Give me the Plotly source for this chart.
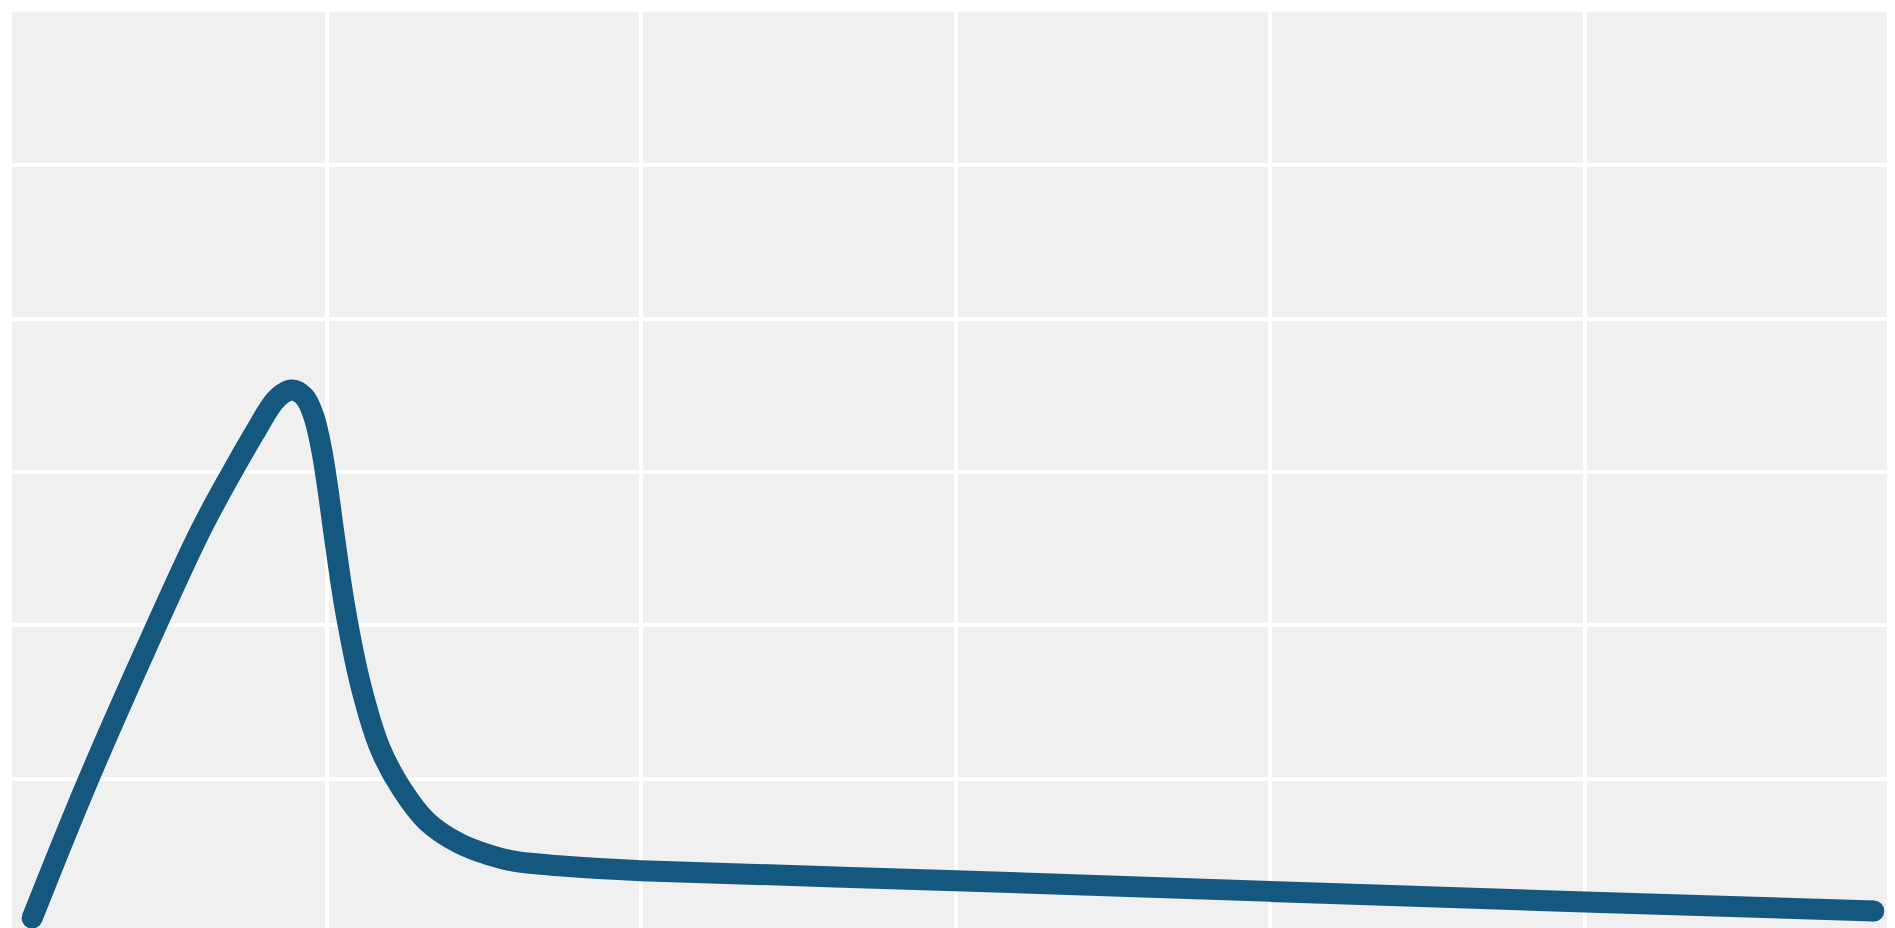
import plotly.graph_objects as go

# Curve (grid units: one gridline per unit)
x_vals = [0.064, 0.232, 0.42, 0.60, 0.70, 0.77, 0.83, 0.86, 0.89, 0.93, 0.96, 0.985,
          1.005, 1.025, 1.06, 1.11, 1.17, 1.24, 1.32, 1.42, 1.52, 1.60, 1.75, 2.0,
          3.0, 4.0, 5.0, 5.92]
y_vals = [0.09, 0.94, 1.82, 2.62, 3.0, 3.25, 3.45, 3.51, 3.535, 3.49, 3.36, 3.14,
          2.88, 2.58, 2.10, 1.60, 1.20, 0.93, 0.72, 0.58, 0.50, 0.46, 0.43, 0.40,
          0.335, 0.265, 0.195, 0.137]

line_color = "#15587F"
line_w = 21

fig = go.Figure()
fig.add_trace(go.Scatter(x=x_vals, y=y_vals, mode="lines", cliponaxis=False,
                         line=dict(color=line_color, width=line_w, shape="spline", smoothing=1.0),
                         hoverinfo="skip", showlegend=False))
fig.add_trace(go.Scatter(x=[x_vals[0], x_vals[-1]], y=[y_vals[0], y_vals[-1]], mode="markers",
                         cliponaxis=False,
                         marker=dict(color=line_color, size=line_w, line=dict(width=0)),
                         hoverinfo="skip", showlegend=False))

fig.update_layout(
    width=1895, height=928,
    margin=dict(l=4, r=4, t=4, b=4),
    paper_bgcolor="white",
    plot_bgcolor="#F0F0F0",
    showlegend=False,
    xaxis=dict(range=[0, 6], dtick=1, tick0=0, showgrid=True, gridcolor="white", gridwidth=4,
               zeroline=False, showticklabels=False, ticks="", showline=False, fixedrange=True),
    yaxis=dict(range=[0, 6], dtick=1, tick0=0, showgrid=True, gridcolor="white", gridwidth=4,
               zeroline=False, showticklabels=False, ticks="", showline=False, fixedrange=True),
)

fig.write_html("out.html", config={"displayModeBar": False})
